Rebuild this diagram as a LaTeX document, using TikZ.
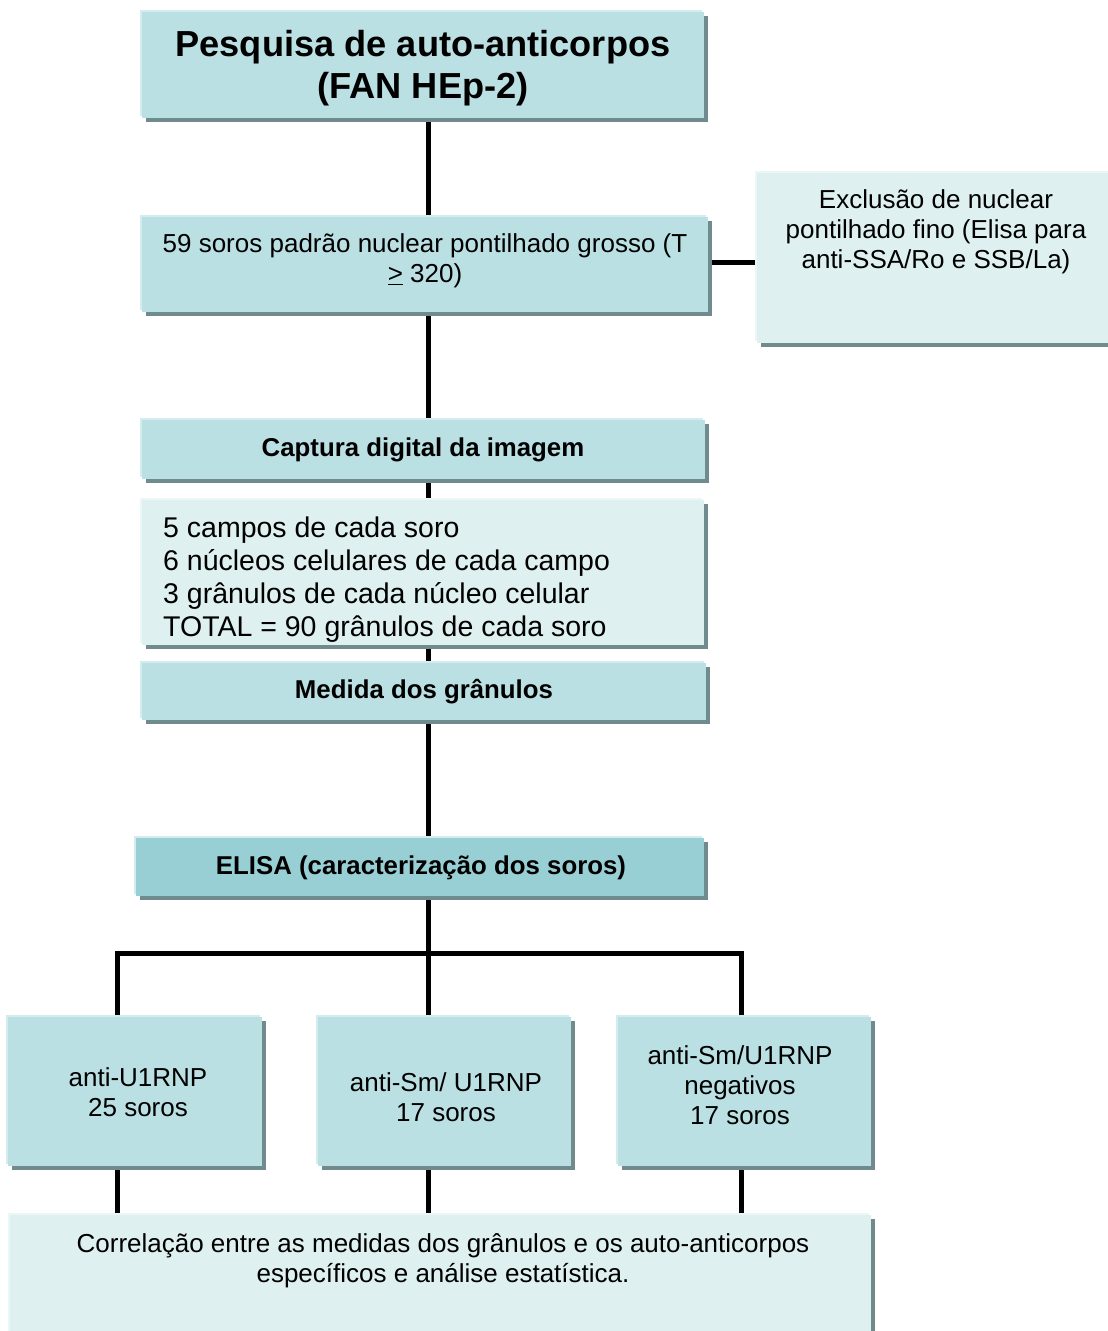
\documentclass[tikz,border=0pt]{standalone}
\usepackage{fontspec}
\setmainfont{Liberation Sans}
\usetikzlibrary{shadows,backgrounds}
\definecolor{midc}{HTML}{BAE0E3}
\definecolor{litec}{HTML}{DFF0F0}
\definecolor{darkc}{HTML}{98CFD4}
\definecolor{shdc}{HTML}{6F8B8D}
\definecolor{hlmid}{HTML}{D3ECEE}
\definecolor{hllite}{HTML}{EBF7F7}
\tikzset{
  boxbase/.style={draw=none, inner sep=0pt, anchor=north west,
    general shadow={fill=shdc, shadow xshift=3.5pt, shadow yshift=-3.5pt}},
  midbox/.style={boxbase, fill=midc, general shadow={fill=hlmid, shadow xshift=-2pt, shadow yshift=2pt}},
  litebox/.style={boxbase, fill=litec, general shadow={fill=hllite, shadow xshift=-2pt, shadow yshift=2pt}},
  darkbox/.style={boxbase, fill=darkc, general shadow={fill=hlmid, shadow xshift=-2pt, shadow yshift=2pt}},
  conn/.style={line width=5pt, black},
  txt/.style={align=center, inner sep=0pt, font=\fontsize{26}{30}\selectfont},
  btxt/.style={align=center, inner sep=0pt, font=\bfseries\fontsize{25.8}{30}\selectfont}
}
\begin{document}
\begin{tikzpicture}[x=1pt,y=-1pt]
\useasboundingbox (0,0) rectangle (1108,1331);
% boxes
\node[midbox, minimum width=562pt, minimum height=106pt] (title) at (142,12) {};
\node[midbox, minimum width=566pt, minimum height=95pt] (s59) at (142,217) {};
\node[litebox, minimum width=360pt, minimum height=170pt] (excl) at (757,173) {};
\node[midbox, minimum width=563pt, minimum height=59pt] (capt) at (142,420) {};
\node[litebox, minimum width=562pt, minimum height=145pt] (campos) at (142,500) {};
\node[midbox, minimum width=564pt, minimum height=57pt] (medida) at (142,663) {};
\node[darkbox, minimum width=568pt, minimum height=58pt] (elisa) at (136,838) {};
\node[midbox, minimum width=254pt, minimum height=149pt] (b1) at (8,1017) {};
\node[midbox, minimum width=253pt, minimum height=149pt] (b2) at (318,1017) {};
\node[midbox, minimum width=253pt, minimum height=149pt] (b3) at (618,1017) {};
\node[litebox, minimum width=861pt, minimum height=140pt] (corr) at (10,1215) {};
% texts
\node[align=center, inner sep=0pt, font=\bfseries\fontsize{36.2}{42}\selectfont] (t1) at (423,68) {Pesquisa de auto-anticorpos\\(FAN HEp-2)};
\node[txt] (t2) at (425,261) {59 soros padrão nuclear pontilhado grosso (T\\\underline{>} 320)};
\node[txt] (t3) at (936,232) {Exclusão de nuclear\\pontilhado fino (Elisa para\\anti-SSA/Ro e SSB/La)};
\node[btxt] (t4) at (423,450) {Captura digital da imagem};
\begin{scope}
\clip (campos.north west) rectangle (campos.south east);
\node[align=left, inner sep=0pt, anchor=west, font=\fontsize{28.5}{33}\selectfont] (t5) at (163,580) {5 campos de cada soro\\6 núcleos celulares de cada campo\\3 grânulos de cada núcleo celular\\TOTAL = 90 grânulos de cada soro};
\end{scope}
\node[btxt] (t6) at (424,692) {Medida dos grânulos};
\node[btxt] (t7) at (421,868) {ELISA (caracterização dos soros)};
\node[txt] (t8) at (138,1092) {anti-U1RNP\\25 soros};
\node[txt] (t9) at (446,1097) {anti-Sm/ U1RNP\\17 soros};
\node[txt] (t10) at (740,1085) {anti-Sm/U1RNP\\negativos\\17 soros};
\node[txt] (t11) at (443,1261) {Correlação entre as medidas dos grânulos e os auto-anticorpos\\específicos e análise estatística.};
% connector guide coordinates
\coordinate (xs) at (428,0);
\coordinate (xl) at (117,0);
\coordinate (xr) at (741,0);
\coordinate (bar) at (428,953);
\begin{scope}[on background layer]
\draw[conn] (title.south -| xs) -- (s59.north -| xs);
\draw[conn] (s59.south -| xs) -- (capt.north -| xs);
\draw[conn] (capt.south -| xs) -- (campos.north -| xs);
\draw[conn] (campos.south -| xs) -- (medida.north -| xs);
\draw[conn] (medida.south -| xs) -- (elisa.north -| xs);
\draw[conn] (elisa.south -| xs) -- (b2.north -| xs);
\draw[conn, line join=miter] (b1.north -| xl) |- (bar) -| (b3.north -| xr);
\draw[conn] (b1.south -| xl) -- (corr.north -| xl);
\draw[conn] (b2.south -| xs) -- (corr.north -| xs);
\draw[conn] (b3.south -| xr) -- (corr.north -| xr);
\draw[conn] ([yshift=2.5pt]s59.east) -- ([yshift=2.5pt]s59.east -| excl.west);
\end{scope}
\end{tikzpicture}
\end{document}
